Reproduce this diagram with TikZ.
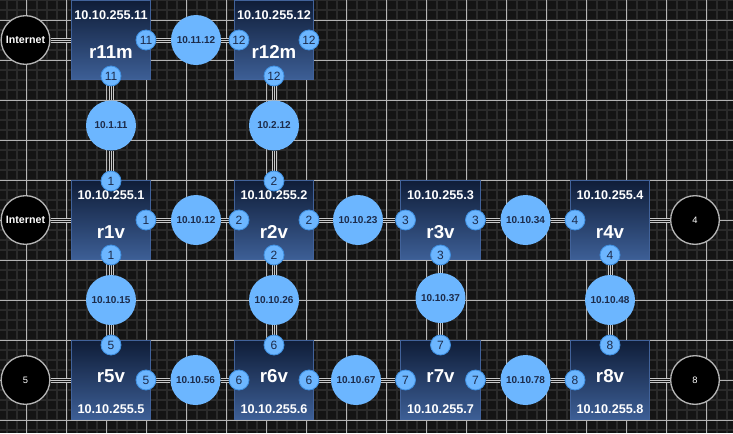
\documentclass[tikz,border=0pt]{standalone}
\usepackage{fontspec}
\setmainfont{Liberation Sans}
\pgfdeclarelayer{gridlayer}
\pgfdeclarelayer{wirelayer}
\pgfsetlayers{gridlayer,wirelayer,main}
\definecolor{bgcol}{HTML}{141414}
\definecolor{minorgray}{HTML}{2A2A2A}
\definecolor{majorgray}{HTML}{B4B4B4}
\definecolor{wiregray}{HTML}{C8C8C8}
\definecolor{boxtop}{HTML}{0F1D38}
\definecolor{boxbot}{HTML}{3D5F96}
\definecolor{boxedge}{HTML}{41629A}
\definecolor{ifcblue}{HTML}{6CB6FF}
\definecolor{ifcedge}{HTML}{3F8FE0}
\definecolor{navy}{HTML}{1C2B4A}
\tikzset{
  minorline/.style={draw=minorgray, line width=1.5pt},
  majorline/.style={draw=majorgray, line width=0.75pt},
  routerbox/.style={draw=boxedge, line width=0.75pt, top color=boxtop, bottom color=boxbot, minimum size=59.4pt, inner sep=0pt},
  ipname/.style={text=white, inner sep=0pt, font=\fontsize{9.5}{11}\selectfont\bfseries},
  rname/.style={text=white, inner sep=0pt, font=\fontsize{14}{16}\selectfont\bfseries},
  ifc/.style={circle, fill=ifcblue, draw=ifcedge, line width=0.6pt, minimum size=15pt, inner sep=0pt, text=navy, font=\fontsize{9}{10}\selectfont},
  netcirc/.style={circle, fill=ifcblue, minimum size=37.5pt, inner sep=0pt, text=navy, font=\fontsize{7.5}{9}\selectfont\bfseries},
  extcirc/.style={circle, fill=black, draw=majorgray, line width=1pt, minimum size=36.5pt, inner sep=0pt, text=white, font=\fontsize{7}{8}\selectfont},
  wire/.style={draw=wiregray, line width=3.75pt, postaction={draw=bgcol, line width=2.25pt}, postaction={draw=wiregray, line width=0.75pt}}
}
\begin{document}
\begin{tikzpicture}[x=0.75pt,y=-0.75pt]
\useasboundingbox (0,0) rectangle (733,433);
\begin{pgfonlayer}{gridlayer}
\fill[bgcol] (0,0) rectangle (733,433);
\foreach \gx in {0,...,72} \draw[minorline] (6.7+10*\gx,0) -- ++(0,433);
\foreach \gy in {0,...,43} \draw[minorline] (0,10*\gy) -- ++(733,0);
\foreach \gx in {0,...,17} \draw[majorline] (26.7+40*\gx,0) -- ++(0,433);
\foreach \gy in {0,...,10} \draw[majorline] (0,20+40*\gy) -- ++(733,0);
\end{pgfonlayer}
% routers
\foreach \rn/\rx/\ry/\rip/\rrow in {r11m/111/40/10.10.255.11/1, r12m/274/40/10.10.255.12/1,
  r1v/111/220/10.10.255.1/1, r2v/274/220/10.10.255.2/1, r3v/440.5/220/10.10.255.3/1, r4v/610/220/10.10.255.4/1,
  r5v/111/380/10.10.255.5/2, r6v/274/380/10.10.255.6/2, r7v/440.5/380/10.10.255.7/2, r8v/610/380/10.10.255.8/2}
{
  \node[routerbox] (\rn) at (\rx,\ry) {};
  \ifnum\rrow=1
    \node[ipname] (\rn-ip) at (\rx,\ry-25) {\rip};
    \node[rname] (\rn-name) at (\rx,\ry+12) {\rn};
  \else
    \node[rname] (\rn-name) at (\rx,\ry-4) {\rn};
    \node[ipname] (\rn-ip) at (\rx,\ry+29) {\rip};
  \fi
}
% interfaces
\foreach \fn/\fx/\fy/\fl in {r11m-e/146/40/11, r11m-s/111/76/11, r12m-w/239/40/12, r12m-e/309/40/12, r12m-s/274/76/12,
  r1v-n/111/181/1, r1v-e/146/220/1, r1v-s/111/255/1, r2v-n/274/181/2, r2v-w/239/220/2, r2v-e/309/220/2, r2v-s/274/255/2,
  r3v-w/405.5/220/3, r3v-e/475.5/220/3, r3v-s/440.5/255/3, r4v-w/575/220/4, r4v-s/610/255/4,
  r5v-n/111/345/5, r5v-e/146/380/5, r6v-n/274/345/6, r6v-w/239/380/6, r6v-e/309/380/6,
  r7v-n/440.5/345/7, r7v-w/405.5/380/7, r7v-e/475.5/380/7, r8v-n/610/345/8, r8v-w/575/380/8}
  \node[ifc] (\fn) at (\fx,\fy) {\fl};
% networks
\foreach \nn/\nx/\ny/\nl in {net1112/196/40/10.11.12, net111/111/125.5/10.1.11, net212/274/125.5/10.2.12,
  net1012/196/220/10.10.12, net1023/358/220/10.10.23, net1034/525.5/220/10.10.34,
  net1015/111/300/10.10.15, net1026/274/300/10.10.26, net1037/440.5/298/10.10.37, net1048/610/300/10.10.48,
  net1056/195.5/380/10.10.56, net1067/356/380/10.10.67, net1078/525.5/380/10.10.78}
  \node[netcirc] (\nn) at (\nx,\ny) {\nl};
\node[extcirc, font=\fontsize{8}{9}\selectfont\bfseries] (inet1) at (25.5,40) {Internet};
\node[extcirc, font=\fontsize{8}{9}\selectfont\bfseries] (inet2) at (25.5,220) {Internet};
\node[extcirc] (ext4) at (695,220) {4};
\node[extcirc] (ext5) at (25.5,380) {5};
\node[extcirc] (ext8) at (695,380) {8};
\begin{pgfonlayer}{wirelayer}
\foreach \wa/\wb in {inet1/r11m, inet2/r1v, r4v/ext4, ext5/r5v, r8v/ext8,
  r11m-e/net1112, net1112/r12m-w, r11m-s/net111, net111/r1v-n, r12m-s/net212, net212/r2v-n,
  r1v-e/net1012, net1012/r2v-w, r2v-e/net1023, net1023/r3v-w, r3v-e/net1034, net1034/r4v-w,
  r1v-s/net1015, net1015/r5v-n, r2v-s/net1026, net1026/r6v-n, r3v-s/net1037, net1037/r7v-n, r4v-s/net1048, net1048/r8v-n,
  r5v-e/net1056, net1056/r6v-w, r6v-e/net1067, net1067/r7v-w, r7v-e/net1078, net1078/r8v-w}
  \draw[wire] (\wa) -- (\wb);
\end{pgfonlayer}
\end{tikzpicture}
\end{document}
